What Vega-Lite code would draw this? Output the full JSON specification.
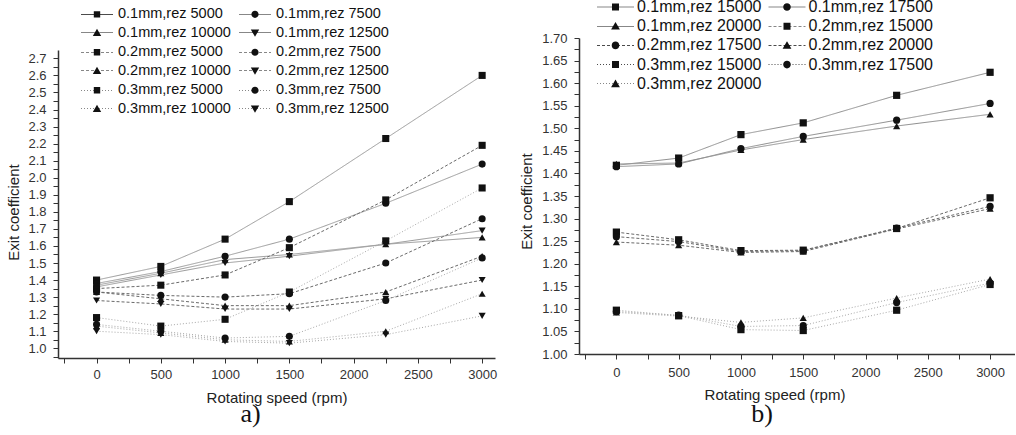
{
  "$schema": "https://vega.github.io/schema/vega-lite/v6.json",
  "background": "white",
  "padding": {"left": 6, "top": -1, "right": 0, "bottom": 0},
  "autosize": {"type": "pad"},
  "datasets": {
    "a": [
      {"t":"0.1mm","r":5000,"s":"0.1mm,rez 5000","x":0,"y":1.40},{"t":"0.1mm","r":5000,"s":"0.1mm,rez 5000","x":500,"y":1.48},{"t":"0.1mm","r":5000,"s":"0.1mm,rez 5000","x":1000,"y":1.64},{"t":"0.1mm","r":5000,"s":"0.1mm,rez 5000","x":1500,"y":1.86},{"t":"0.1mm","r":5000,"s":"0.1mm,rez 5000","x":2250,"y":2.23},{"t":"0.1mm","r":5000,"s":"0.1mm,rez 5000","x":3000,"y":2.60},
      {"t":"0.1mm","r":7500,"s":"0.1mm,rez 7500","x":0,"y":1.38},{"t":"0.1mm","r":7500,"s":"0.1mm,rez 7500","x":500,"y":1.45},{"t":"0.1mm","r":7500,"s":"0.1mm,rez 7500","x":1000,"y":1.54},{"t":"0.1mm","r":7500,"s":"0.1mm,rez 7500","x":1500,"y":1.64},{"t":"0.1mm","r":7500,"s":"0.1mm,rez 7500","x":2250,"y":1.85},{"t":"0.1mm","r":7500,"s":"0.1mm,rez 7500","x":3000,"y":2.08},
      {"t":"0.1mm","r":10000,"s":"0.1mm,rez 10000","x":0,"y":1.37},{"t":"0.1mm","r":10000,"s":"0.1mm,rez 10000","x":500,"y":1.44},{"t":"0.1mm","r":10000,"s":"0.1mm,rez 10000","x":1000,"y":1.52},{"t":"0.1mm","r":10000,"s":"0.1mm,rez 10000","x":1500,"y":1.55},{"t":"0.1mm","r":10000,"s":"0.1mm,rez 10000","x":2250,"y":1.61},{"t":"0.1mm","r":10000,"s":"0.1mm,rez 10000","x":3000,"y":1.65},
      {"t":"0.1mm","r":12500,"s":"0.1mm,rez 12500","x":0,"y":1.36},{"t":"0.1mm","r":12500,"s":"0.1mm,rez 12500","x":500,"y":1.43},{"t":"0.1mm","r":12500,"s":"0.1mm,rez 12500","x":1000,"y":1.50},{"t":"0.1mm","r":12500,"s":"0.1mm,rez 12500","x":1500,"y":1.54},{"t":"0.1mm","r":12500,"s":"0.1mm,rez 12500","x":2250,"y":1.61},{"t":"0.1mm","r":12500,"s":"0.1mm,rez 12500","x":3000,"y":1.69},
      {"t":"0.2mm","r":5000,"s":"0.2mm,rez 5000","x":0,"y":1.35},{"t":"0.2mm","r":5000,"s":"0.2mm,rez 5000","x":500,"y":1.37},{"t":"0.2mm","r":5000,"s":"0.2mm,rez 5000","x":1000,"y":1.43},{"t":"0.2mm","r":5000,"s":"0.2mm,rez 5000","x":1500,"y":1.59},{"t":"0.2mm","r":5000,"s":"0.2mm,rez 5000","x":2250,"y":1.87},{"t":"0.2mm","r":5000,"s":"0.2mm,rez 5000","x":3000,"y":2.19},
      {"t":"0.2mm","r":7500,"s":"0.2mm,rez 7500","x":0,"y":1.33},{"t":"0.2mm","r":7500,"s":"0.2mm,rez 7500","x":500,"y":1.31},{"t":"0.2mm","r":7500,"s":"0.2mm,rez 7500","x":1000,"y":1.30},{"t":"0.2mm","r":7500,"s":"0.2mm,rez 7500","x":1500,"y":1.32},{"t":"0.2mm","r":7500,"s":"0.2mm,rez 7500","x":2250,"y":1.50},{"t":"0.2mm","r":7500,"s":"0.2mm,rez 7500","x":3000,"y":1.76},
      {"t":"0.2mm","r":10000,"s":"0.2mm,rez 10000","x":0,"y":1.33},{"t":"0.2mm","r":10000,"s":"0.2mm,rez 10000","x":500,"y":1.29},{"t":"0.2mm","r":10000,"s":"0.2mm,rez 10000","x":1000,"y":1.25},{"t":"0.2mm","r":10000,"s":"0.2mm,rez 10000","x":1500,"y":1.25},{"t":"0.2mm","r":10000,"s":"0.2mm,rez 10000","x":2250,"y":1.33},{"t":"0.2mm","r":10000,"s":"0.2mm,rez 10000","x":3000,"y":1.54},
      {"t":"0.2mm","r":12500,"s":"0.2mm,rez 12500","x":0,"y":1.28},{"t":"0.2mm","r":12500,"s":"0.2mm,rez 12500","x":500,"y":1.26},{"t":"0.2mm","r":12500,"s":"0.2mm,rez 12500","x":1000,"y":1.23},{"t":"0.2mm","r":12500,"s":"0.2mm,rez 12500","x":1500,"y":1.23},{"t":"0.2mm","r":12500,"s":"0.2mm,rez 12500","x":2250,"y":1.29},{"t":"0.2mm","r":12500,"s":"0.2mm,rez 12500","x":3000,"y":1.40},
      {"t":"0.3mm","r":5000,"s":"0.3mm,rez 5000","x":0,"y":1.18},{"t":"0.3mm","r":5000,"s":"0.3mm,rez 5000","x":500,"y":1.13},{"t":"0.3mm","r":5000,"s":"0.3mm,rez 5000","x":1000,"y":1.17},{"t":"0.3mm","r":5000,"s":"0.3mm,rez 5000","x":1500,"y":1.33},{"t":"0.3mm","r":5000,"s":"0.3mm,rez 5000","x":2250,"y":1.63},{"t":"0.3mm","r":5000,"s":"0.3mm,rez 5000","x":3000,"y":1.94},
      {"t":"0.3mm","r":7500,"s":"0.3mm,rez 7500","x":0,"y":1.14},{"t":"0.3mm","r":7500,"s":"0.3mm,rez 7500","x":500,"y":1.10},{"t":"0.3mm","r":7500,"s":"0.3mm,rez 7500","x":1000,"y":1.06},{"t":"0.3mm","r":7500,"s":"0.3mm,rez 7500","x":1500,"y":1.07},{"t":"0.3mm","r":7500,"s":"0.3mm,rez 7500","x":2250,"y":1.28},{"t":"0.3mm","r":7500,"s":"0.3mm,rez 7500","x":3000,"y":1.53},
      {"t":"0.3mm","r":10000,"s":"0.3mm,rez 10000","x":0,"y":1.13},{"t":"0.3mm","r":10000,"s":"0.3mm,rez 10000","x":500,"y":1.09},{"t":"0.3mm","r":10000,"s":"0.3mm,rez 10000","x":1000,"y":1.05},{"t":"0.3mm","r":10000,"s":"0.3mm,rez 10000","x":1500,"y":1.04},{"t":"0.3mm","r":10000,"s":"0.3mm,rez 10000","x":2250,"y":1.10},{"t":"0.3mm","r":10000,"s":"0.3mm,rez 10000","x":3000,"y":1.32},
      {"t":"0.3mm","r":12500,"s":"0.3mm,rez 12500","x":0,"y":1.10},{"t":"0.3mm","r":12500,"s":"0.3mm,rez 12500","x":500,"y":1.08},{"t":"0.3mm","r":12500,"s":"0.3mm,rez 12500","x":1000,"y":1.04},{"t":"0.3mm","r":12500,"s":"0.3mm,rez 12500","x":1500,"y":1.03},{"t":"0.3mm","r":12500,"s":"0.3mm,rez 12500","x":2250,"y":1.08},{"t":"0.3mm","r":12500,"s":"0.3mm,rez 12500","x":3000,"y":1.19}
    ],
    "b": [
      {"t":"0.1mm","r":15000,"s":"0.1mm,rez 15000","x":0,"y":1.418},{"t":"0.1mm","r":15000,"s":"0.1mm,rez 15000","x":500,"y":1.434},{"t":"0.1mm","r":15000,"s":"0.1mm,rez 15000","x":1000,"y":1.486},{"t":"0.1mm","r":15000,"s":"0.1mm,rez 15000","x":1500,"y":1.512},{"t":"0.1mm","r":15000,"s":"0.1mm,rez 15000","x":2250,"y":1.573},{"t":"0.1mm","r":15000,"s":"0.1mm,rez 15000","x":3000,"y":1.624},
      {"t":"0.1mm","r":17500,"s":"0.1mm,rez 17500","x":0,"y":1.415},{"t":"0.1mm","r":17500,"s":"0.1mm,rez 17500","x":500,"y":1.421},{"t":"0.1mm","r":17500,"s":"0.1mm,rez 17500","x":1000,"y":1.455},{"t":"0.1mm","r":17500,"s":"0.1mm,rez 17500","x":1500,"y":1.482},{"t":"0.1mm","r":17500,"s":"0.1mm,rez 17500","x":2250,"y":1.518},{"t":"0.1mm","r":17500,"s":"0.1mm,rez 17500","x":3000,"y":1.555},
      {"t":"0.1mm","r":20000,"s":"0.1mm,rez 20000","x":0,"y":1.421},{"t":"0.1mm","r":20000,"s":"0.1mm,rez 20000","x":500,"y":1.423},{"t":"0.1mm","r":20000,"s":"0.1mm,rez 20000","x":1000,"y":1.452},{"t":"0.1mm","r":20000,"s":"0.1mm,rez 20000","x":1500,"y":1.475},{"t":"0.1mm","r":20000,"s":"0.1mm,rez 20000","x":2250,"y":1.505},{"t":"0.1mm","r":20000,"s":"0.1mm,rez 20000","x":3000,"y":1.531},
      {"t":"0.2mm","r":15000,"s":"0.2mm,rez 15000","x":0,"y":1.270},{"t":"0.2mm","r":15000,"s":"0.2mm,rez 15000","x":500,"y":1.253},{"t":"0.2mm","r":15000,"s":"0.2mm,rez 15000","x":1000,"y":1.229},{"t":"0.2mm","r":15000,"s":"0.2mm,rez 15000","x":1500,"y":1.230},{"t":"0.2mm","r":15000,"s":"0.2mm,rez 15000","x":2250,"y":1.278},{"t":"0.2mm","r":15000,"s":"0.2mm,rez 15000","x":3000,"y":1.346},
      {"t":"0.2mm","r":17500,"s":"0.2mm,rez 17500","x":0,"y":1.260},{"t":"0.2mm","r":17500,"s":"0.2mm,rez 17500","x":500,"y":1.249},{"t":"0.2mm","r":17500,"s":"0.2mm,rez 17500","x":1000,"y":1.227},{"t":"0.2mm","r":17500,"s":"0.2mm,rez 17500","x":1500,"y":1.229},{"t":"0.2mm","r":17500,"s":"0.2mm,rez 17500","x":2250,"y":1.279},{"t":"0.2mm","r":17500,"s":"0.2mm,rez 17500","x":3000,"y":1.327},
      {"t":"0.2mm","r":20000,"s":"0.2mm,rez 20000","x":0,"y":1.248},{"t":"0.2mm","r":20000,"s":"0.2mm,rez 20000","x":500,"y":1.241},{"t":"0.2mm","r":20000,"s":"0.2mm,rez 20000","x":1000,"y":1.225},{"t":"0.2mm","r":20000,"s":"0.2mm,rez 20000","x":1500,"y":1.227},{"t":"0.2mm","r":20000,"s":"0.2mm,rez 20000","x":2250,"y":1.277},{"t":"0.2mm","r":20000,"s":"0.2mm,rez 20000","x":3000,"y":1.322},
      {"t":"0.3mm","r":15000,"s":"0.3mm,rez 15000","x":0,"y":1.097},{"t":"0.3mm","r":15000,"s":"0.3mm,rez 15000","x":500,"y":1.085},{"t":"0.3mm","r":15000,"s":"0.3mm,rez 15000","x":1000,"y":1.054},{"t":"0.3mm","r":15000,"s":"0.3mm,rez 15000","x":1500,"y":1.052},{"t":"0.3mm","r":15000,"s":"0.3mm,rez 15000","x":2250,"y":1.097},{"t":"0.3mm","r":15000,"s":"0.3mm,rez 15000","x":3000,"y":1.154},
      {"t":"0.3mm","r":17500,"s":"0.3mm,rez 17500","x":0,"y":1.094},{"t":"0.3mm","r":17500,"s":"0.3mm,rez 17500","x":500,"y":1.086},{"t":"0.3mm","r":17500,"s":"0.3mm,rez 17500","x":1000,"y":1.061},{"t":"0.3mm","r":17500,"s":"0.3mm,rez 17500","x":1500,"y":1.063},{"t":"0.3mm","r":17500,"s":"0.3mm,rez 17500","x":2250,"y":1.114},{"t":"0.3mm","r":17500,"s":"0.3mm,rez 17500","x":3000,"y":1.157},
      {"t":"0.3mm","r":20000,"s":"0.3mm,rez 20000","x":0,"y":1.092},{"t":"0.3mm","r":20000,"s":"0.3mm,rez 20000","x":500,"y":1.084},{"t":"0.3mm","r":20000,"s":"0.3mm,rez 20000","x":1000,"y":1.070},{"t":"0.3mm","r":20000,"s":"0.3mm,rez 20000","x":1500,"y":1.080},{"t":"0.3mm","r":20000,"s":"0.3mm,rez 20000","x":2250,"y":1.124},{"t":"0.3mm","r":20000,"s":"0.3mm,rez 20000","x":3000,"y":1.166}
    ]
  },
  "hconcat": [
    {
      "vconcat": [
        {"width": 437, "height": 12, "data": {"values": []}, "mark": {"type": "point"}},
        {
          "width": 437,
          "height": 308,
          "data": {"name": "a"},
          "title": {"text": "a)", "orient": "bottom", "frame": "group", "anchor": "middle", "dx": -26, "offset": -4, "font": "Liberation Serif", "fontSize": 26, "fontWeight": "normal", "color": "#111"},
          "encoding": {
            "x": {"field": "x", "type": "quantitative",
              "scale": {"domain": [-300, 3100], "nice": false, "zero": false},
              "axis": {"title": "Rotating speed (rpm)", "values": [-250,0,250,500,750,1000,1250,1500,1750,2000,2250,2500,2750,3000], "format": "d",
                "labelExpr": "datum.value % 500 === 0 ? datum.label : ''", "tickSize": 5, "labelPadding": 5, "labelOverlap": false, "labelFlush": false,
                "titleY": 44.3, "titleBaseline": "alphabetic",
                "encode": {"ticks": {"update": {"y2": {"signal": "datum.value % 500 === 0 ? 5 : 3"}}}}}},
            "y": {"field": "y", "type": "quantitative",
              "scale": {"domain": [0.943, 2.749], "nice": false, "zero": false},
              "axis": {"title": "Exit coefficient", "values": [0.95,1.0,1.05,1.1,1.15,1.2,1.25,1.3,1.35,1.4,1.45,1.5,1.55,1.6,1.65,1.7,1.75,1.8,1.85,1.9,1.95,2.0,2.05,2.1,2.15,2.2,2.25,2.3,2.35,2.4,2.45,2.5,2.55,2.6,2.65,2.7], "format": ".1f",
                "labelExpr": "round(datum.value*20) % 2 === 0 ? datum.label : ''", "tickSize": 5, "labelPadding": 7, "labelOverlap": false, "labelFlush": false,
                "titleX": -40, "titleY": 162, "titleAngle": 270, "titleBaseline": "alphabetic", "titleAlign": "center",
                "encode": {"ticks": {"update": {"x2": {"signal": "round(datum.value*20) % 2 === 0 ? -5 : -3"}}}}}}
          },
          "layer": [
            {
              "mark": {"type": "line", "strokeWidth": 1},
              "encoding": {
                "detail": {"field": "s", "type": "nominal"},
                "color": {"field": "t", "type": "nominal", "scale": {"domain": ["0.1mm","0.2mm","0.3mm"], "range": ["#9a9a9a","#6a6a6a","#a8a8a8"]}, "legend": null},
                "strokeDash": {"field": "t", "type": "nominal", "scale": {"domain": ["0.1mm","0.2mm","0.3mm"], "range": [[1,0],[3,2],[1,2]]}, "legend": null}
              }
            },
            {
              "mark": {"type": "point", "filled": true, "color": "#111", "size": 50, "opacity": 1},
              "encoding": {
                "shape": {"field": "r", "type": "nominal", "scale": {"domain": [5000,7500,10000,12500], "range": ["square","circle","triangle-up","triangle-down"]}, "legend": null}
              }
            },
            {
              "data": {"values": []},
              "mark": {"type": "point", "filled": true, "color": "#111", "fill": "#111", "opacity": 1, "size": 64},
              "encoding": {
                "shape": {"field": "s", "type": "nominal",
                  "scale": {"domain": ["0.1mm,rez 5000","0.1mm,rez 7500","0.1mm,rez 10000","0.1mm,rez 12500","0.2mm,rez 5000","0.2mm,rez 7500","0.2mm,rez 10000","0.2mm,rez 12500","0.3mm,rez 5000","0.3mm,rez 7500","0.3mm,rez 10000","0.3mm,rez 12500"],
                    "range": [
                      "M-4,-0.07H4V0.07H-4ZM-0.8,-0.8H0.8V0.8H-0.8Z",
                      "M-4,-0.07H4V0.07H-4ZM0.9,0C0.9,0.497,0.497,0.9,0,0.9C-0.497,0.9,-0.9,0.497,-0.9,0C-0.9,-0.497,-0.497,-0.9,0,-0.9C0.497,-0.9,0.9,-0.497,0.9,0Z",
                      "M-4,-0.07H4V0.07H-4ZM0,-1L1.05,0.8L-1.05,0.8Z",
                      "M-4,-0.07H4V0.07H-4ZM0,1L-1.05,-0.8L1.05,-0.8Z",
                      "M-4,-0.07H-3.25V0.07H-4ZM-2.75,-0.07H-2V0.07H-2.75ZM-1.5,-0.07H-0.75V0.07H-1.5ZM-0.25,-0.07H0.5V0.07H-0.25ZM1,-0.07H1.75V0.07H1ZM2.25,-0.07H3V0.07H2.25ZM3.5,-0.07H4V0.07H3.5ZM-0.8,-0.8H0.8V0.8H-0.8Z",
                      "M-4,-0.07H-3.25V0.07H-4ZM-2.75,-0.07H-2V0.07H-2.75ZM-1.5,-0.07H-0.75V0.07H-1.5ZM-0.25,-0.07H0.5V0.07H-0.25ZM1,-0.07H1.75V0.07H1ZM2.25,-0.07H3V0.07H2.25ZM3.5,-0.07H4V0.07H3.5ZM0.9,0C0.9,0.497,0.497,0.9,0,0.9C-0.497,0.9,-0.9,0.497,-0.9,0C-0.9,-0.497,-0.497,-0.9,0,-0.9C0.497,-0.9,0.9,-0.497,0.9,0Z",
                      "M-4,-0.07H-3.25V0.07H-4ZM-2.75,-0.07H-2V0.07H-2.75ZM-1.5,-0.07H-0.75V0.07H-1.5ZM-0.25,-0.07H0.5V0.07H-0.25ZM1,-0.07H1.75V0.07H1ZM2.25,-0.07H3V0.07H2.25ZM3.5,-0.07H4V0.07H3.5ZM0,-1L1.05,0.8L-1.05,0.8Z",
                      "M-4,-0.07H-3.25V0.07H-4ZM-2.75,-0.07H-2V0.07H-2.75ZM-1.5,-0.07H-0.75V0.07H-1.5ZM-0.25,-0.07H0.5V0.07H-0.25ZM1,-0.07H1.75V0.07H1ZM2.25,-0.07H3V0.07H2.25ZM3.5,-0.07H4V0.07H3.5ZM0,1L-1.05,-0.8L1.05,-0.8Z",
                      "M-4,-0.07H-3.75V0.07H-4ZM-3.25,-0.07H-3V0.07H-3.25ZM-2.5,-0.07H-2.25V0.07H-2.5ZM-1.75,-0.07H-1.5V0.07H-1.75ZM-1,-0.07H-0.75V0.07H-1ZM-0.25,-0.07H0V0.07H-0.25ZM0.5,-0.07H0.75V0.07H0.5ZM1.25,-0.07H1.5V0.07H1.25ZM2,-0.07H2.25V0.07H2ZM2.75,-0.07H3V0.07H2.75ZM3.5,-0.07H3.75V0.07H3.5ZM-0.8,-0.8H0.8V0.8H-0.8Z",
                      "M-4,-0.07H-3.75V0.07H-4ZM-3.25,-0.07H-3V0.07H-3.25ZM-2.5,-0.07H-2.25V0.07H-2.5ZM-1.75,-0.07H-1.5V0.07H-1.75ZM-1,-0.07H-0.75V0.07H-1ZM-0.25,-0.07H0V0.07H-0.25ZM0.5,-0.07H0.75V0.07H0.5ZM1.25,-0.07H1.5V0.07H1.25ZM2,-0.07H2.25V0.07H2ZM2.75,-0.07H3V0.07H2.75ZM3.5,-0.07H3.75V0.07H3.5ZM0.9,0C0.9,0.497,0.497,0.9,0,0.9C-0.497,0.9,-0.9,0.497,-0.9,0C-0.9,-0.497,-0.497,-0.9,0,-0.9C0.497,-0.9,0.9,-0.497,0.9,0Z",
                      "M-4,-0.07H-3.75V0.07H-4ZM-3.25,-0.07H-3V0.07H-3.25ZM-2.5,-0.07H-2.25V0.07H-2.5ZM-1.75,-0.07H-1.5V0.07H-1.75ZM-1,-0.07H-0.75V0.07H-1ZM-0.25,-0.07H0V0.07H-0.25ZM0.5,-0.07H0.75V0.07H0.5ZM1.25,-0.07H1.5V0.07H1.25ZM2,-0.07H2.25V0.07H2ZM2.75,-0.07H3V0.07H2.75ZM3.5,-0.07H3.75V0.07H3.5ZM0,-1L1.05,0.8L-1.05,0.8Z",
                      "M-4,-0.07H-3.75V0.07H-4ZM-3.25,-0.07H-3V0.07H-3.25ZM-2.5,-0.07H-2.25V0.07H-2.5ZM-1.75,-0.07H-1.5V0.07H-1.75ZM-1,-0.07H-0.75V0.07H-1ZM-0.25,-0.07H0V0.07H-0.25ZM0.5,-0.07H0.75V0.07H0.5ZM1.25,-0.07H1.5V0.07H1.25ZM2,-0.07H2.25V0.07H2ZM2.75,-0.07H3V0.07H2.75ZM3.5,-0.07H3.75V0.07H3.5ZM0,1L-1.05,-0.8L1.05,-0.8Z"
                    ]},
                  "legend": {"title": null, "orient": "none", "direction": "horizontal", "legendX": 23, "legendY": -43, "columns": 2, "padding": 0,
                    "symbolSize": 64, "symbolOffset": 8.75, "labelOffset": 13.75, "labelFont": "Liberation Sans", "labelFontSize": 14.5, "labelColor": "#111", "labelLimit": 300,
                    "rowPadding": 3.5, "columnPadding": 5, "symbolOpacity": 1}
                }
              }
            }
          ],
          "resolve": {"scale": {"shape": "independent"}, "legend": {"shape": "independent"}}
        }
      ],
      "spacing": 0,
      "bounds": "flush"
    },
    {
      "width": 436,
      "height": 316,
      "data": {"name": "b"},
      "title": {"text": "b)", "orient": "bottom", "frame": "group", "anchor": "middle", "dx": -35, "offset": -2, "font": "Liberation Serif", "fontSize": 26, "fontWeight": "normal", "color": "#111"},
      "encoding": {
        "x": {"field": "x", "type": "quantitative",
          "scale": {"domain": [-300, 3200], "nice": false, "zero": false},
          "axis": {"title": "Rotating speed (rpm)", "values": [-250,0,250,500,750,1000,1250,1500,1750,2000,2250,2500,2750,3000], "format": "d",
            "labelExpr": "datum.value % 500 === 0 ? datum.label : ''", "tickSize": 5, "labelPadding": 7, "labelOverlap": false, "labelFlush": false,
            "titleX": 195.5, "titleY": 45.7, "titleBaseline": "alphabetic",
            "encode": {"ticks": {"update": {"y2": {"signal": "datum.value % 500 === 0 ? 5 : 3"}}}}}},
        "y": {"field": "y", "type": "quantitative",
          "scale": {"domain": [1.0, 1.7], "nice": false, "zero": false},
          "axis": {"title": "Exit coefficient", "values": [1.0,1.025,1.05,1.075,1.1,1.125,1.15,1.175,1.2,1.225,1.25,1.275,1.3,1.325,1.35,1.375,1.4,1.425,1.45,1.475,1.5,1.525,1.55,1.575,1.6,1.625,1.65,1.675,1.7], "format": ".2f",
            "labelExpr": "round(datum.value*40) % 2 === 0 ? datum.label : ''", "tickSize": 5, "labelPadding": 7, "labelOverlap": false, "labelFlush": false,
            "titleX": -48, "titleY": 163, "titleAngle": 270, "titleBaseline": "alphabetic", "titleAlign": "center",
            "encode": {"ticks": {"update": {"x2": {"signal": "round(datum.value*40) % 2 === 0 ? -5 : -3"}}}}}}
      },
      "layer": [
        {
          "mark": {"type": "line", "strokeWidth": 1},
          "encoding": {
            "detail": {"field": "s", "type": "nominal"},
            "color": {"field": "t", "type": "nominal", "scale": {"domain": ["0.1mm","0.2mm","0.3mm"], "range": ["#8f8f8f","#6a6a6a","#a8a8a8"]}, "legend": null},
            "strokeDash": {"field": "t", "type": "nominal", "scale": {"domain": ["0.1mm","0.2mm","0.3mm"], "range": [[1,0],[3,2],[1,2]]}, "legend": null}
          }
        },
        {
          "mark": {"type": "point", "filled": true, "color": "#111", "size": 52, "opacity": 1},
          "encoding": {
            "shape": {"field": "r", "type": "nominal", "scale": {"domain": [15000,17500,20000], "range": ["square","circle","triangle-up"]}, "legend": null}
          }
        },
        {
          "data": {"values": []},
          "mark": {"type": "point", "filled": true, "color": "#111", "fill": "#111", "opacity": 1, "size": 64},
          "encoding": {
            "shape": {"field": "s", "type": "nominal",
              "scale": {"domain": ["0.1mm,rez 15000","0.1mm,rez 17500","0.1mm,rez 20000","0.2mm,rez 15000","0.2mm,rez 17500","0.2mm,rez 20000","0.3mm,rez 15000","0.3mm,rez 17500","0.3mm,rez 20000"],
                "range": [
                  "M-4.625,-0.07H4.625V0.07H-4.625ZM-0.875,-0.875H0.875V0.875H-0.875Z",
                  "M-4.625,-0.07H4.625V0.07H-4.625ZM0.95,0C0.95,0.525,0.525,0.95,0,0.95C-0.525,0.95,-0.95,0.525,-0.95,0C-0.95,-0.525,-0.525,-0.95,0,-0.95C0.525,-0.95,0.95,-0.525,0.95,0Z",
                  "M-4.625,-0.07H4.625V0.07H-4.625ZM0,-1.05L1.1,0.85L-1.1,0.85Z",
                  "M-4.625,-0.07H-3.875V0.07H-4.625ZM-3.375,-0.07H-2.625V0.07H-3.375ZM-2.125,-0.07H-1.375V0.07H-2.125ZM-0.875,-0.07H-0.125V0.07H-0.875ZM0.375,-0.07H1.125V0.07H0.375ZM1.625,-0.07H2.375V0.07H1.625ZM2.875,-0.07H3.625V0.07H2.875ZM4.125,-0.07H4.625V0.07H4.125ZM-0.875,-0.875H0.875V0.875H-0.875Z",
                  "M-4.625,-0.07H-3.875V0.07H-4.625ZM-3.375,-0.07H-2.625V0.07H-3.375ZM-2.125,-0.07H-1.375V0.07H-2.125ZM-0.875,-0.07H-0.125V0.07H-0.875ZM0.375,-0.07H1.125V0.07H0.375ZM1.625,-0.07H2.375V0.07H1.625ZM2.875,-0.07H3.625V0.07H2.875ZM4.125,-0.07H4.625V0.07H4.125ZM0.95,0C0.95,0.525,0.525,0.95,0,0.95C-0.525,0.95,-0.95,0.525,-0.95,0C-0.95,-0.525,-0.525,-0.95,0,-0.95C0.525,-0.95,0.95,-0.525,0.95,0Z",
                  "M-4.625,-0.07H-3.875V0.07H-4.625ZM-3.375,-0.07H-2.625V0.07H-3.375ZM-2.125,-0.07H-1.375V0.07H-2.125ZM-0.875,-0.07H-0.125V0.07H-0.875ZM0.375,-0.07H1.125V0.07H0.375ZM1.625,-0.07H2.375V0.07H1.625ZM2.875,-0.07H3.625V0.07H2.875ZM4.125,-0.07H4.625V0.07H4.125ZM0,-1.05L1.1,0.85L-1.1,0.85Z",
                  "M-4.625,-0.07H-4.375V0.07H-4.625ZM-3.875,-0.07H-3.625V0.07H-3.875ZM-3.125,-0.07H-2.875V0.07H-3.125ZM-2.375,-0.07H-2.125V0.07H-2.375ZM-1.625,-0.07H-1.375V0.07H-1.625ZM-0.875,-0.07H-0.625V0.07H-0.875ZM-0.125,-0.07H0.125V0.07H-0.125ZM0.625,-0.07H0.875V0.07H0.625ZM1.375,-0.07H1.625V0.07H1.375ZM2.125,-0.07H2.375V0.07H2.125ZM2.875,-0.07H3.125V0.07H2.875ZM3.625,-0.07H3.875V0.07H3.625ZM4.375,-0.07H4.625V0.07H4.375ZM-0.875,-0.875H0.875V0.875H-0.875Z",
                  "M-4.625,-0.07H-4.375V0.07H-4.625ZM-3.875,-0.07H-3.625V0.07H-3.875ZM-3.125,-0.07H-2.875V0.07H-3.125ZM-2.375,-0.07H-2.125V0.07H-2.375ZM-1.625,-0.07H-1.375V0.07H-1.625ZM-0.875,-0.07H-0.625V0.07H-0.875ZM-0.125,-0.07H0.125V0.07H-0.125ZM0.625,-0.07H0.875V0.07H0.625ZM1.375,-0.07H1.625V0.07H1.375ZM2.125,-0.07H2.375V0.07H2.125ZM2.875,-0.07H3.125V0.07H2.875ZM3.625,-0.07H3.875V0.07H3.625ZM4.375,-0.07H4.625V0.07H4.375ZM0.95,0C0.95,0.525,0.525,0.95,0,0.95C-0.525,0.95,-0.95,0.525,-0.95,0C-0.95,-0.525,-0.525,-0.95,0,-0.95C0.525,-0.95,0.95,-0.525,0.95,0Z",
                  "M-4.625,-0.07H-4.375V0.07H-4.625ZM-3.875,-0.07H-3.625V0.07H-3.875ZM-3.125,-0.07H-2.875V0.07H-3.125ZM-2.375,-0.07H-2.125V0.07H-2.375ZM-1.625,-0.07H-1.375V0.07H-1.625ZM-0.875,-0.07H-0.625V0.07H-0.875ZM-0.125,-0.07H0.125V0.07H-0.125ZM0.625,-0.07H0.875V0.07H0.625ZM1.375,-0.07H1.625V0.07H1.375ZM2.125,-0.07H2.375V0.07H2.125ZM2.875,-0.07H3.125V0.07H2.875ZM3.625,-0.07H3.875V0.07H3.625ZM4.375,-0.07H4.625V0.07H4.375ZM0,-1.05L1.1,0.85L-1.1,0.85Z"
                ]},
              "legend": {"title": null, "orient": "none", "direction": "horizontal", "legendX": 18, "legendY": -39, "columns": 2, "padding": 0,
                "symbolSize": 64, "symbolOffset": 10.5, "labelOffset": 13.5, "labelFont": "Liberation Sans", "labelFontSize": 16, "labelColor": "#111", "labelLimit": 300,
                "rowPadding": 3.2, "columnPadding": 3.5, "symbolOpacity": 1}
            }
          }
        }
      ],
      "resolve": {"scale": {"shape": "independent"}, "legend": {"shape": "independent"}}
    }
  ],
  "spacing": 22,
  "resolve": {"scale": {"shape": "independent", "color": "independent", "strokeDash": "independent"}, "legend": {"shape": "independent"}},
  "config": {
    "view": {"stroke": null},
    "axis": {"grid": false, "domainColor": "#333", "domainWidth": 1.5, "tickColor": "#333", "tickWidth": 1,
      "labelFont": "Liberation Sans", "labelFontSize": 13, "labelColor": "#333",
      "titleFont": "Liberation Sans", "titleFontSize": 15, "titleFontWeight": "normal", "titleColor": "#222"}
  }
}
